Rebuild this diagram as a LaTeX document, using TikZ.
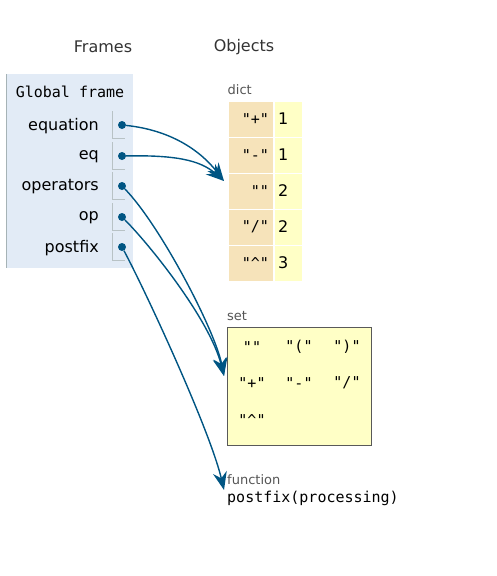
\documentclass[tikz,border=0pt]{standalone}
\usepackage{fontspec}
\setmainfont{DejaVu Sans}
\setmonofont{DejaVu Sans Mono}
\usepackage{xcolor}
\usepackage{tikz}
\usetikzlibrary{arrows.meta,positioning}

\definecolor{framebg}{HTML}{E2EBF6}
\definecolor{framerule}{HTML}{A6B3B6}
\definecolor{keybg}{HTML}{F6E3BA}
\definecolor{valbg}{HTML}{FFFFC6}
\definecolor{refblue}{HTML}{005583}
\definecolor{tagtext}{HTML}{555555}

\begin{document}
\begin{tikzpicture}[
  x=1pt, y=-1pt,
  font=\fontsize{16}{19}\selectfont,
  mono/.style={font=\ttfamily\fontsize{15}{18}\selectfont},
  head/.style={text=black!80, inner sep=0pt},
  tag/.style={font=\fontsize{13}{15}\selectfont, text=tagtext, inner sep=0pt},
  var/.style={anchor=east, inner sep=0pt},
  dot/.style={circle, fill=refblue, inner sep=0pt, minimum size=8pt},
  cell/.style={draw=framerule!80, line width=0.8pt},
  key/.style={mono, fill=keybg, draw=white, line width=1pt, minimum height=36pt, text width=37pt, inner sep=4pt, align=right},
  val/.style={fill=valbg, draw=white, line width=1pt, minimum height=36pt, text width=20pt, inner sep=4pt, align=left},
  elem/.style={mono, inner sep=0pt},
  ref/.style={draw=refblue, line width=1.4pt, -{Stealth[length=18pt,width=14pt,inset=6pt]}}]
\useasboundingbox (0,0) rectangle (496,576);

% headings
\node[head] (frames) at (103,47) {Frames};
\node[head] (objects) at (244,47) {Objects};

% global frame
\node[fill=framebg, minimum width=126pt, minimum height=194pt, inner sep=0pt] (global) at (70,171) {};
\draw[framerule, line width=0.8pt] (global.north west) -- (global.south west);
\node[mono, inner sep=0pt] (gtitle) at (70,92) {Global frame};

\node[var] (n1) at (99,126) {equation};
\node[var] (n2) at (99,157) {eq};
\node[var] (n3) at (99,187) {operators};
\node[var] (n4) at (99,218) {op};
\node[var] (n5) at (99,248) {postfix};

\node[dot] (d1) at (122,125) {};
\node[dot] (d2) at (122,156) {};
\node[dot] (d3) at (122,186) {};
\node[dot] (d4) at (122,217) {};
\node[dot] (d5) at (122,247) {};
\draw[cell] (d1) ++(-10,-14) -- ++(0,27) -- ++(13,0);
\draw[cell] (d2) ++(-10,-14) -- ++(0,27) -- ++(13,0);
\draw[cell] (d3) ++(-10,-14) -- ++(0,27) -- ++(13,0);
\draw[cell] (d4) ++(-10,-14) -- ++(0,27) -- ++(13,0);
\draw[cell] (d5) ++(-10,-14) -- ++(0,27) -- ++(13,0);

% dict
\node[key] (k1) at (250.5,119) {"+"};
\node[val] (v1) at (288,119) {1};
\node[key] (k2) at (250.5,155) {"-"};
\node[val] (v2) at (288,155) {1};
\node[key] (k3) at (250.5,191) {""};
\node[val] (v3) at (288,191) {2};
\node[key] (k4) at (250.5,227) {"/"};
\node[val] (v4) at (288,227) {2};
\node[key] (k5) at (250.5,263) {"\textasciicircum"};
\node[val] (v5) at (288,263) {3};
\node[tag, above right=6pt and 0pt of k1.north west] (dicttag) {dict};

% set
\node[fill=valbg, draw=black!65, line width=1pt, minimum width=144pt, minimum height=118pt, inner sep=0pt] (setobj) at (299.5,386) {};
\node[tag, above right=6pt and 0pt of setobj.north west] (settag) {set};
\node[elem] (s1) at (252,347) {""};
\node[elem] (s2) at (299,347) {"("};
\node[elem] (s3) at (347,347) {")"};
\node[elem] (s4) at (252,383) {"+"};
\node[elem] (s5) at (299,383) {"-"};
\node[elem] (s6) at (347,383) {"/"};
\node[elem] (s7) at (252,420) {"\textasciicircum"};

% function
\node[tag, anchor=west] (funtag) at (227,480) {function};
\node[mono, inner sep=0pt, below right=6pt and 0pt of funtag.south west] (fun) {postfix(processing)};

% references
\coordinate (dictin) at (224,181);
\coordinate (setin) at (224,376);
\coordinate (funin) at (224,490);
\draw[ref] (d1) .. controls (170,130) and (200,150) .. (dictin);
\draw[ref] (d2) .. controls (175,155) and (200,160) .. (dictin);
\draw[ref] (d3) .. controls (160,225) and (215,330) .. (setin);
\draw[ref] (d4) .. controls (150,245) and (210,320) .. (setin);
\draw[ref] (d5) .. controls (145,290) and (210,430) .. (funin);
\end{tikzpicture}
\end{document}
